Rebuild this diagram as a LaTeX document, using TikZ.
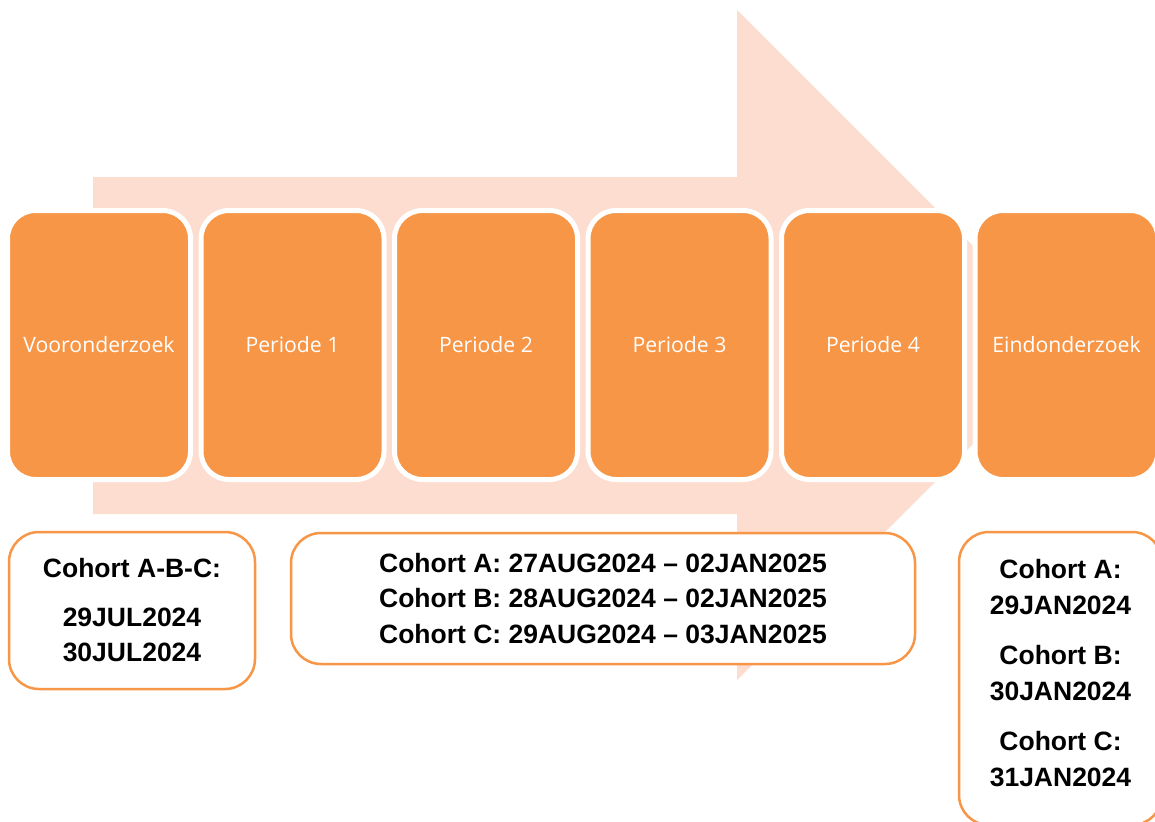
\documentclass[tikz,border=0pt]{standalone}
\usepackage{fontspec}
\newfontfamily\stepfont{Open Sans}
\newfontfamily\datefont{Liberation Sans}
\definecolor{boxorange}{HTML}{F79646}
\definecolor{arrowpeach}{HTML}{FCDDD0}
\tikzset{
	stepbox/.style={draw=white, line width=5pt, fill=boxorange, rounded corners=28pt,
		minimum width=183pt, minimum height=269pt, inner sep=0pt, text=white,
		font=\stepfont\fontsize{21.2}{25}\selectfont},
	datebox/.style={draw=boxorange, line width=2.5pt, fill=white, rounded corners=30pt,
		inner sep=0pt, align=center, font=\datefont\bfseries\fontsize{26.5}{35.5}\selectfont}
}
\begin{document}
\begin{tikzpicture}[x=1pt,y=-1pt]
	\useasboundingbox (0,0) rectangle (1155,821);
	\clip (0,0) rectangle (1155,821);
	% big arrow behind
	\fill [arrowpeach] (93,177) -- (737,177) -- (737,10) -- (1072,345) -- (737,680) -- (737,514) -- (93,514) -- cycle;
	% steps
	\foreach \name/\txt [count=\i from 0] in {voor/Vooronderzoek, per1/Periode 1, per2/Periode 2, per3/Periode 3, per4/Periode 4, eind/Eindonderzoek}
		\node [stepbox] (\name) at (99+193.5*\i,345) {\txt};
	% dates
	\node [datebox, minimum width=246pt, minimum height=157pt] (datevoor) at (132,610.5)
		{Cohort A-B-C:\\[13pt]29JUL2024\\30JUL2024};
	\node [datebox, minimum width=624pt, minimum height=131pt] (dateper) at (603,598.5)
		{Cohort A: 27AUG2024 – 02JAN2025\\Cohort B: 28AUG2024 – 02JAN2025\\Cohort C: 29AUG2024 – 03JAN2025};
	\node [datebox, minimum width=203pt, minimum height=293pt, text depth=11pt] (dateeind) at (1060.5,678.5)
		{Cohort A:\\29JAN2024\\[15pt]Cohort B:\\30JAN2024\\[15pt]Cohort C:\\31JAN2024};
\end{tikzpicture}
\end{document}
